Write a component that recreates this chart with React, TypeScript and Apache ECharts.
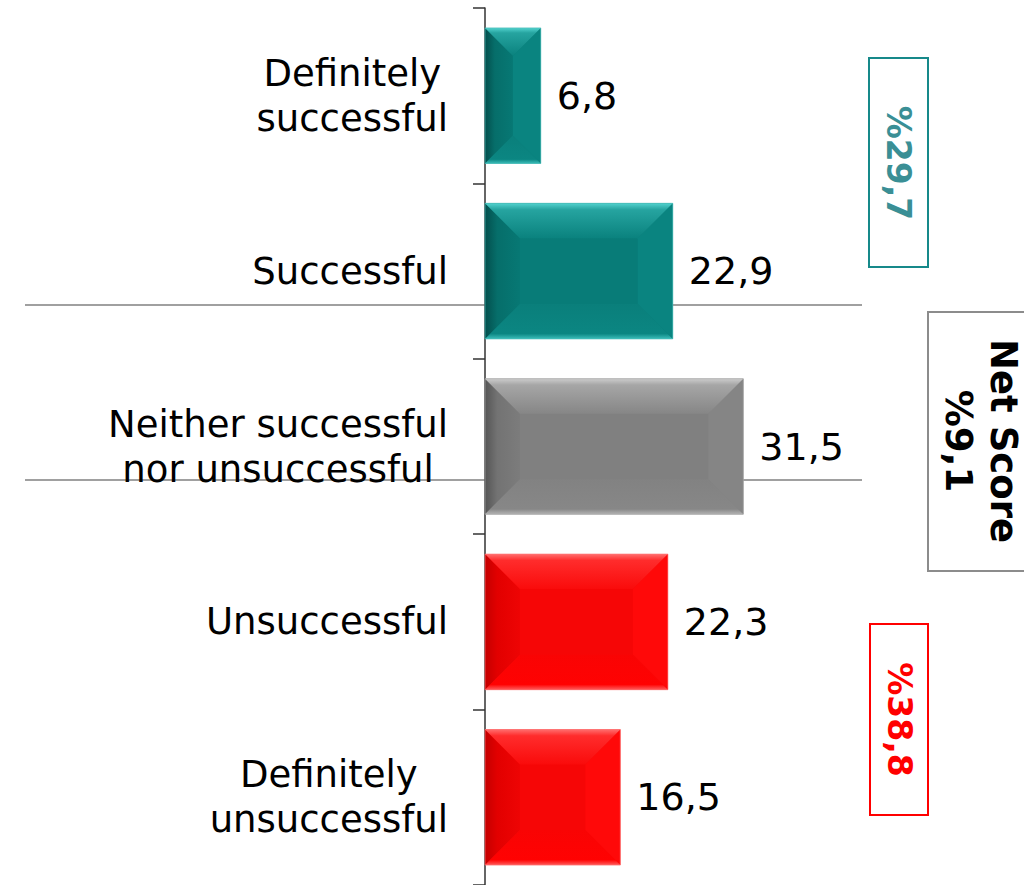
import React, { useEffect, useRef } from 'react';
import * as echarts from 'echarts';

const categories = [
  'Definitely\nsuccessful',
  'Successful',
  'Neither successful\nnor unsuccessful',
  'Unsuccessful',
  'Definitely\nunsuccessful',
];
const values = [6.8, 22.9, 31.5, 22.3, 16.5];
const groups = ['teal', 'teal', 'grey', 'red', 'red'];
const positiveShare = '%29,7';
const netScoreTitle = 'Net Score';
const netScoreValue = '%9,1';
const negativeShare = '%38,8';

const FONT = '"DejaVu Sans", Verdana, sans-serif';

const palettes: Record<string, any> = {
  teal: {
    main: '#087c78',
    top: [[0, '#52d2ce'], [0.18, '#26a4a0'], [1, '#0a827e']],
    left: [[0, '#034f4d'], [0.35, '#066e6a'], [1, '#077874']],
    right: '#0a8480',
    bottom: [[0, '#0a7f7b'], [0.85, '#0b8682'], [1, '#3cbeba']],
    border: '#49bdb9',
  },
  grey: {
    main: '#808080',
    top: [[0, '#cccccc'], [0.18, '#a6a6a6'], [1, '#868686']],
    left: [[0, '#555555'], [0.35, '#737373'], [1, '#7c7c7c']],
    right: '#858585',
    bottom: [[0, '#828282'], [0.85, '#878787'], [1, '#b4b4b4']],
    border: '#a8a8a8',
  },
  red: {
    main: '#f60606',
    top: [[0, '#ff6e6e'], [0.18, '#ff2c2c'], [1, '#fa0b0b']],
    left: [[0, '#c40000'], [0.35, '#e20000'], [1, '#ee0404']],
    right: '#ff0909',
    bottom: [[0, '#f90404'], [0.85, '#ff0202'], [1, '#ff5c5c']],
    border: '#ff7272',
  },
};

const fmt = (v: number) => v.toFixed(1).replace('.', ',');

export default function App() {
  const ref = useRef<HTMLDivElement>(null);
  useEffect(() => {
    document.body.style.margin = '0';
    const chart = echarts.init(ref.current!, undefined, { renderer: 'svg' });
    const data = values.map((v, i) => [v, i]);
    const option: any = {
      animation: false,
      grid: { left: 485, top: 8, width: 328, height: 880, containLabel: false },
      xAxis: { type: 'value', min: 0, max: 40, show: false },
      yAxis: {
        type: 'category',
        inverse: true,
        data: categories,
        axisLine: { show: true, lineStyle: { color: '#333333', width: 1.5 } },
        axisTick: { show: true, length: 12, lineStyle: { color: '#333333', width: 1.5 } },
        splitLine: { show: false },
        axisLabel: {
          margin: 37,
          align: 'right',
          formatter: (value: string) =>
            value.split('\n').map((s) => `{c|${s}}`).join('\n'),
          rich: {
            c: { align: 'center', fontSize: 37, lineHeight: 45, color: '#000', fontFamily: FONT },
          },
        },
      },
      graphic: [
        { type: 'line', z: 0, shape: { x1: 25, y1: 305, x2: 862, y2: 305 }, style: { stroke: '#808080', lineWidth: 1.5 } },
        { type: 'line', z: 0, shape: { x1: 25, y1: 480, x2: 862, y2: 480 }, style: { stroke: '#808080', lineWidth: 1.5 } },
        { type: 'rect', shape: { x: 869, y: 58, width: 59, height: 209 }, style: { fill: '#fff', stroke: '#16898a', lineWidth: 2 } },
        { type: 'text', x: 898.5, y: 163, rotation: -Math.PI / 2, style: { text: positiveShare, fill: '#3a8f95', font: `bold 33px ${FONT}`, align: 'center', verticalAlign: 'middle' } },
        { type: 'rect', shape: { x: 928, y: 312, width: 110, height: 259 }, style: { fill: '#fff', stroke: '#8c8c8c', lineWidth: 2 } },
        { type: 'text', x: 981, y: 441, rotation: -Math.PI / 2, style: { text: netScoreTitle + '\n' + netScoreValue, fill: '#000', font: `bold 37px ${FONT}`, lineHeight: 45, align: 'center', verticalAlign: 'middle' } },
        { type: 'rect', shape: { x: 870, y: 624, width: 58, height: 191 }, style: { fill: '#fff', stroke: '#ff0000', lineWidth: 2 } },
        { type: 'text', x: 899, y: 719.5, rotation: -Math.PI / 2, style: { text: negativeShare, fill: '#ff0000', font: `bold 33px ${FONT}`, align: 'center', verticalAlign: 'middle' } },
      ],
      series: [
        {
          type: 'custom',
          z: 5,
          encode: { x: 0, y: 1 },
          data,
          renderItem: (params: any, api: any) => {
            const val = api.value(0);
            const idx = api.value(1);
            const p = palettes[groups[idx]];
            const s = api.coord([0, idx]);
            const e = api.coord([val, idx]);
            const band = api.size([0, 1])[1];
            const h = band * 0.773;
            const x0 = s[0], x1 = e[0], y0 = s[1] - h / 2, y1 = s[1] + h / 2;
            const w = x1 - x0;
            const b = Math.min(35, w / 2, h / 2);
            const lg = (stops: any[], horiz = false) =>
              new echarts.graphic.LinearGradient(
                0, 0, horiz ? 1 : 0, horiz ? 0 : 1,
                stops.map(([o, c]: any) => ({ offset: o, color: c }))
              );
            return {
              type: 'group',
              children: [
                { type: 'rect', shape: { x: x0, y: y0, width: w, height: h }, style: { fill: p.main } },
                { type: 'polygon', shape: { points: [[x0, y0], [x0 + b, y0 + b], [x0 + b, y1 - b], [x0, y1]] }, style: { fill: lg(p.left, true) } },
                { type: 'polygon', shape: { points: [[x1, y0], [x1 - b, y0 + b], [x1 - b, y1 - b], [x1, y1]] }, style: { fill: p.right } },
                { type: 'polygon', shape: { points: [[x0, y1], [x1, y1], [x1 - b, y1 - b], [x0 + b, y1 - b]] }, style: { fill: lg(p.bottom) } },
                { type: 'polygon', shape: { points: [[x0, y0], [x1, y0], [x1 - b, y0 + b], [x0 + b, y0 + b]] }, style: { fill: lg(p.top) } },
                { type: 'rect', shape: { x: x0, y: y0, width: w, height: h }, style: { fill: 'none', stroke: p.border, lineWidth: 1, opacity: 0.7 } },
                {
                  type: 'text',
                  x: x1 + 16,
                  y: s[1],
                  style: { text: fmt(val), fill: '#000', font: `38px ${FONT}`, align: 'left', verticalAlign: 'middle' },
                },
              ],
            };
          },
        },
      ],
    };
    chart.setOption(option);
    return () => chart.dispose();
  }, []);
  return <div ref={ref} style={{ width: 1024, height: 885 }} />;
}
